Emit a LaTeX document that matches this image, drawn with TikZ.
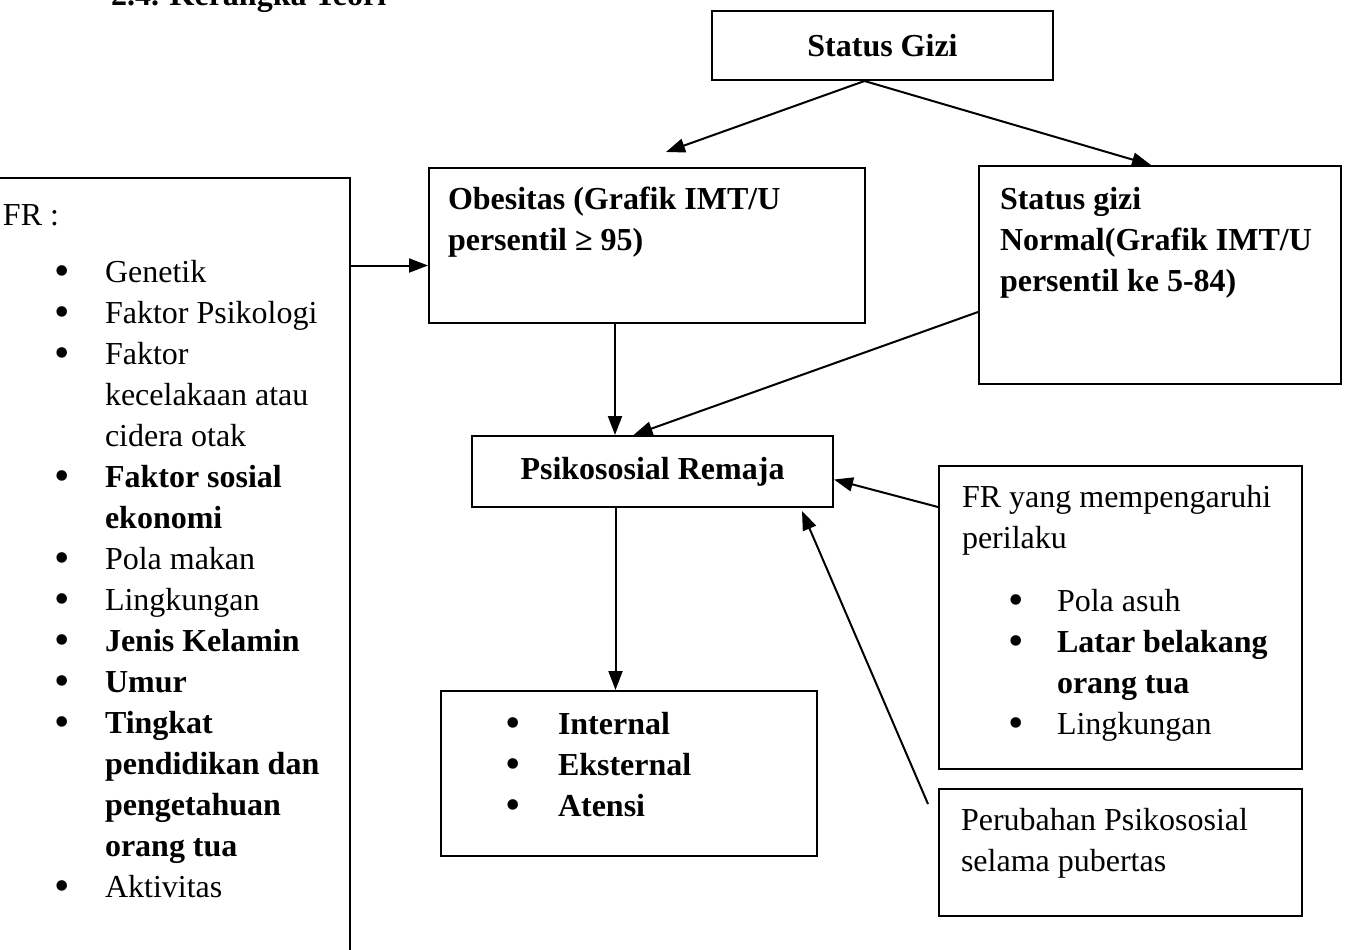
\documentclass[tikz,border=0pt]{standalone}
\usepackage{fontspec}
\setmainfont{Liberation Serif}
\usetikzlibrary{arrows.meta,calc}

\newcommand{\isi}[4]{\parbox[c][#2][t]{#1}{\leftskip=#3\relax #4}}
\newcommand{\titik}{\raisebox{-1.5pt}{\fontsize{22}{0}\selectfont\textbullet}}
\newcommand{\bul}[2]{\par\hangindent=#2\hangafter=1\noindent\makebox[#2][l]{\hspace*{#1}\titik}}
\newcommand{\kiri}{\bul{26pt}{51pt}}
\newcommand{\kanan}{\bul{23.25pt}{47.5pt}}
\newcommand{\tengah}{\bul{32.25pt}{58.5pt}}

\begin{document}
\begin{tikzpicture}[->,>={Triangle[length=9.5pt,width=7pt]},x=0.5pt,y=-0.5pt,line width=1pt,
  kotak/.style={draw,anchor=north west,inner sep=0pt,font=\fontsize{16}{20.5}\selectfont},
  tebal/.style={kotak,font=\fontsize{16}{20.5}\selectfont\bfseries}]
  \useasboundingbox (0,0) rectangle (1347,949);
  \node[anchor=base west,inner sep=0pt,font=\fontsize{16}{20.5}\selectfont\bfseries] (judul) at (110,5) {2.4. Kerangka Teori};
  \node[tebal,minimum width=170.5pt,minimum height=34.5pt] (stat) at (711,10) {Status Gizi};
  \node[kotak] (obes) at (428,167) {\isi{218pt}{77.5pt}{9.5pt}{\rule{0pt}{20.5pt}\textbf{Obesitas (Grafik IMT/U\newline persentil ≥ 95)}}};
  \node[kotak] (norm) at (978,165) {\isi{181pt}{109pt}{10.5pt}{\rule{0pt}{21.5pt}\textbf{Status gizi\newline Normal(Grafik IMT/U\newline persentil ke 5-84)}}};
  \node[kotak] (frl) at (-30,177) {\isi{189.5pt}{400pt}{16pt}{\rule{0pt}{23.5pt}FR :\par\vspace{8pt}
    \kiri Genetik
    \kiri Faktor Psikologi
    \kiri Faktor\newline kecelakaan atau\newline cidera otak
    \kiri \textbf{Faktor sosial\newline ekonomi}
    \kiri Pola makan
    \kiri Lingkungan
    \kiri \textbf{Jenis Kelamin}
    \kiri \textbf{Umur}
    \kiri \textbf{Tingkat\newline pendidikan dan\newline pengetahuan\newline orang tua}
    \kiri Aktivitas}};
  \node[tebal,minimum width=180.5pt,minimum height=35.5pt] (psiko) at (471,435) {Psikososial Remaja};
  \node[kotak] (inter) at (440,690) {\isi{188pt}{82.5pt}{0pt}{\tengah\rule{0pt}{21.5pt}\textbf{Internal}
    \tengah\textbf{Eksternal}
    \tengah\textbf{Atensi}}};
  \node[kotak] (frr) at (938,465) {\isi{181.5pt}{151.5pt}{11.5pt}{\rule{0pt}{20.5pt}FR yang mempengaruhi\newline perilaku\par\vspace{11pt}
    \kanan Pola asuh
    \kanan \textbf{Latar belakang\newline orang tua}
    \kanan Lingkungan}};
  \node[kotak] (perub) at (938,788) {\isi{181.5pt}{63.5pt}{11pt}{\rule{0pt}{20.5pt}Perubahan Psikososial\newline selama pubertas}};
  % panah
  \coordinate (s0) at ($(stat.south)+(-18,0)$);
  \coordinate (a1) at ($(obes.west)+(0,20)$);
  \coordinate (v1) at ($(obes.south)+(-32,0)$);
  \coordinate (v2) at ($(psiko.south)+(-37,0)$);
  \draw (s0)--($(obes.north)+(19,-15)$);
  \draw (s0)--($(norm.north)+(-9,0)$);
  \draw (frl.east |- a1)--(a1);
  \draw (v1)--(v1 |- psiko.north);
  \draw ($(norm.west)+(0,37)$)--($(psiko.north)+(-19,0)$);
  \draw (v2)--(v2 |- inter.north);
  \draw ($(frr.north west)+(0,42)$)--($(psiko.east)+(0,8)$);
  \draw ($(perub.north west)+(-10,16)$)--($(psiko.south east)+(-32,3)$);
\end{tikzpicture}
\end{document}
